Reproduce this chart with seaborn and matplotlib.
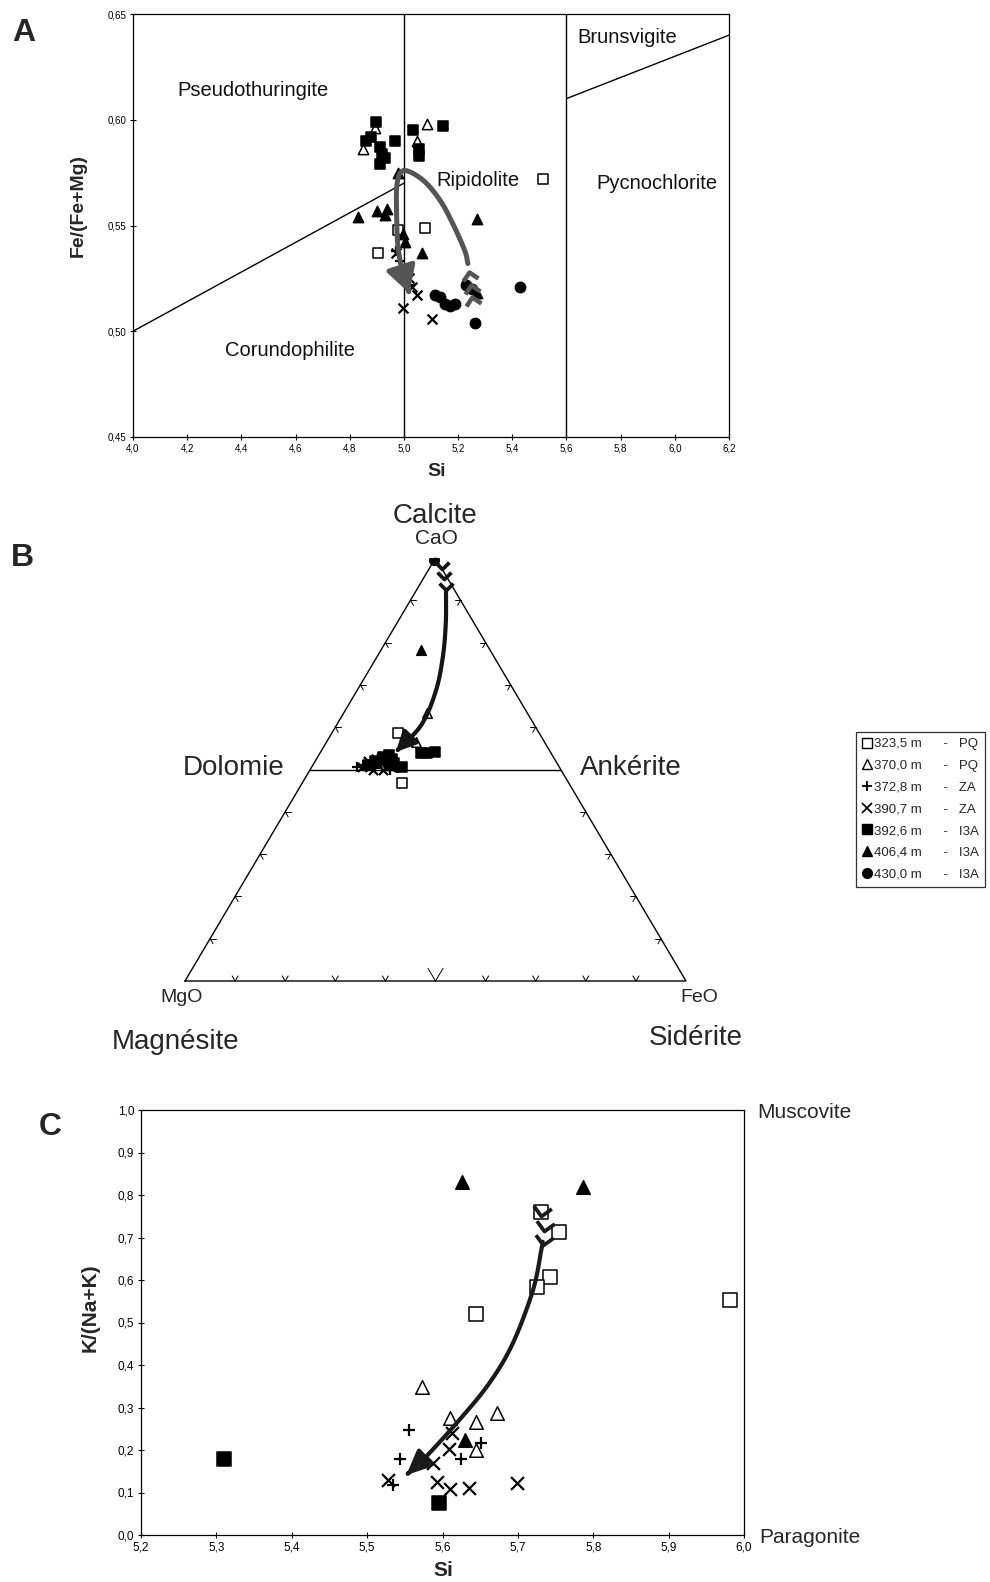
import numpy as np
import pandas as pd
import matplotlib
matplotlib.use("Agg")
import matplotlib.pyplot as plt
import seaborn as sns
from matplotlib.path import Path
from matplotlib.markers import MarkerStyle
from matplotlib.transforms import Affine2D
from matplotlib.patches import FancyArrowPatch, ArrowStyle
from matplotlib.lines import Line2D
from matplotlib.ticker import FuncFormatter, MultipleLocator

sns.set_theme(style="ticks")
plt.rcParams["font.family"] = ["Liberation Sans", "DejaVu Sans"]
plt.rcParams["axes.edgecolor"] = "black"
plt.rcParams["axes.linewidth"] = 0.9

# ---------------------------------------------------------------- samples
sample_labels = ["323,5 m      -   PQ", "370,0 m      -   PQ", "372,8 m      -   ZA",
                 "390,7 m      -   ZA", "392,6 m      -   I3A", "406,4 m      -   I3A",
                 "430,0 m      -   I3A"]
sample_markers = ["s", "^", "+", "x", "s", "^", "o"]
sample_faces = ["white", "white", "black", "black", "black", "black", "black"]

# ---------------------------------------------------------------- A: chlorites, Si vs Fe/(Fe+Mg)
a_si = [
    [4.905, 4.978, 5.077, 5.513],
    [4.893, 4.850, 5.085, 5.048],
    [4.985, 5.000, 5.020, 5.010, 4.970],
    [4.997, 5.105, 5.050, 5.030, 4.970, 5.020, 4.985],
    [4.897, 4.860, 4.880, 4.910, 4.920, 4.930, 4.910, 4.967, 5.033, 5.144, 5.055, 5.055],
    [4.830, 4.900, 4.937, 4.930, 4.980, 5.004, 5.066, 5.270, 4.995, 5.270],
    [5.114, 5.133, 5.150, 5.170, 5.190, 5.262, 5.430, 5.230, 5.250],
]
a_fe = [
    [0.537, 0.548, 0.549, 0.572],
    [0.596, 0.586, 0.598, 0.590],
    [0.533, 0.527, 0.522, 0.530, 0.538],
    [0.511, 0.506, 0.517, 0.521, 0.537, 0.525, 0.545],
    [0.599, 0.590, 0.592, 0.587, 0.584, 0.582, 0.579, 0.590, 0.595, 0.597, 0.586, 0.583],
    [0.554, 0.557, 0.558, 0.555, 0.575, 0.542, 0.537, 0.553, 0.546, 0.518],
    [0.517, 0.516, 0.513, 0.512, 0.513, 0.504, 0.521, 0.522, 0.520],
]
a_arrow_si = [5.236, 5.225, 5.180, 5.133, 5.070, 5.000, 4.975, 4.973, 4.978, 4.995, 5.020]
a_arrow_fe = [0.532, 0.538, 0.551, 0.562, 0.5715, 0.576, 0.570, 0.555, 0.540, 0.528, 0.518]
a_fletch_si = [5.240, 5.246, 5.252]
a_fletch_fe = [0.528, 0.522, 0.516]

# field boundaries (Hey classification)
a_bound1_si, a_bound1_fe = [4.0, 5.0], [0.50, 0.57]
a_bound2_si, a_bound2_fe = [5.6, 6.2], [0.61, 0.64]
a_vlines = [5.0, 5.6]
a_fields = ["Pseudothuringite", "Corundophilite", "Ripidolite", "Brunsvigite", "Pycnochlorite"]
a_field_si = [4.443, 4.579, 5.273, 5.823, 5.934]
a_field_fe = [0.614, 0.491, 0.5715, 0.639, 0.570]

# ---------------------------------------------------------------- B: carbonates, CaO-MgO-FeO
b_cao = [
    [0.586, 0.467],
    [0.634, 0.566],
    [0.505, 0.510, 0.520, 0.500],
    [0.505, 0.510, 0.500, 0.515, 0.520, 0.500],
    [0.540, 0.542, 0.538, 0.530, 0.520, 0.510, 0.525, 0.515, 0.505, 0.535],
    [0.782, 0.525, 0.530, 0.515],
    [0.995, 0.520, 0.510, 0.505],
]
b_feo = [
    [0.133, 0.199],
    [0.167, 0.179],
    [0.090, 0.100, 0.130, 0.160],
    [0.100, 0.115, 0.125, 0.135, 0.105, 0.145],
    [0.201, 0.228, 0.215, 0.130, 0.120, 0.110, 0.150, 0.160, 0.180, 0.140],
    [0.080, 0.110, 0.120, 0.125],
    [0.000, 0.140, 0.150, 0.170],
]
b_arrow_cao = [0.922, 0.845, 0.765, 0.685, 0.605, 0.5415]
b_arrow_feo = [0.060, 0.098, 0.132, 0.158, 0.169, 0.150]
b_fletch_cao = [0.975, 0.950, 0.925]
b_fletch_feo = [0.025, 0.042, 0.058]

# ---------------------------------------------------------------- C: micas, Si vs K/(Na+K)
c_si = [
    [5.645, 5.731, 5.755, 5.742, 5.726, 5.982],
    [5.573, 5.610, 5.645, 5.672, 5.645],
    [5.555, 5.544, 5.625, 5.651, 5.534],
    [5.528, 5.612, 5.608, 5.587, 5.593, 5.610, 5.635, 5.699],
    [5.310, 5.596],
    [5.626, 5.786, 5.630],
    [],
]
c_k = [
    [0.520, 0.761, 0.714, 0.608, 0.584, 0.553],
    [0.349, 0.275, 0.267, 0.286, 0.200],
    [0.247, 0.180, 0.180, 0.216, 0.118],
    [0.129, 0.239, 0.202, 0.169, 0.125, 0.108, 0.110, 0.122],
    [0.180, 0.075],
    [0.831, 0.820, 0.224],
    [],
]
c_arrow_si = [5.733, 5.731, 5.720, 5.693, 5.662, 5.622, 5.578, 5.552]
c_arrow_k = [0.690, 0.670, 0.576, 0.450, 0.357, 0.270, 0.184, 0.141]
c_fletch_si = [5.731, 5.735, 5.733]
c_fletch_k = [0.750, 0.715, 0.682]


# ---------------------------------------------------------------- helpers
def catmull_rom(pts, n=14):
    pts = np.asarray(pts, float)
    P = np.vstack([2 * pts[0] - pts[1], pts, 2 * pts[-1] - pts[-2]])
    out = []
    t = np.linspace(0, 1, n, endpoint=False)[:, None]
    for i in range(1, len(P) - 2):
        p0, p1, p2, p3 = P[i - 1], P[i], P[i + 1], P[i + 2]
        seg = 0.5 * (2 * p1 + (-p0 + p2) * t + (2 * p0 - 5 * p1 + 4 * p2 - p3) * t ** 2
                     + (-p0 + 3 * p1 - 3 * p2 + p3) * t ** 3)
        out.append(seg)
    out.append(pts[-1:])
    return np.vstack(out)


def trend_arrow(ax, xs, ys, fx, fy, color, lw, head_len, head_w, fletch_size):
    pts = catmull_rom(np.column_stack([xs, ys]))
    arrow = FancyArrowPatch(path=Path(pts), transform=ax.transData,
                            arrowstyle=ArrowStyle("-|>", head_length=head_len, head_width=head_w),
                            mutation_scale=20, lw=lw, color=color, zorder=5,
                            capstyle="round", joinstyle="round")
    ax.add_patch(arrow)
    # fletching: chevrons pointing along the direction of travel
    d0 = ax.transData.transform(pts[0])
    d1 = ax.transData.transform(pts[3])
    ang = np.degrees(np.arctan2(d1[1] - d0[1], d1[0] - d0[0]))
    chevron = Path([(-1.0, 1.0), (0.0, 0.0), (-1.0, -1.0)],
                   [Path.MOVETO, Path.LINETO, Path.LINETO])
    ms = MarkerStyle(chevron, fillstyle="none", transform=Affine2D().rotate_deg(ang))
    ax.plot(fx, fy, linestyle="none", marker=ms, markersize=fletch_size,
            markeredgewidth=lw * 0.9, color=color, zorder=5)


def scatter_samples(ax, xs_list, ys_list, size):
    for xs, ys, mk, fc in zip(xs_list, ys_list, sample_markers, sample_faces):
        if len(xs) == 0:
            continue
        df = pd.DataFrame({"x": xs, "y": ys})
        kw = dict(data=df, x="x", y="y", marker=mk, color="black", ax=ax,
                  legend=False, zorder=4)
        if mk in ("+", "x"):
            sns.scatterplot(s=size * 0.9, linewidth=1.6, **kw)
        else:
            sns.scatterplot(s=size, facecolor=fc, edgecolor="black", linewidth=1.1, **kw)


comma = lambda nd: FuncFormatter(lambda v, p: f"{v:.{nd}f}".replace(".", ","))

W, H = 990, 1582
fig = plt.figure(figsize=(W / 100, H / 100), dpi=100)
fig.patch.set_facecolor("white")


def px_axes(left, top, right, bottom):
    return fig.add_axes([left / W, 1 - bottom / H, (right - left) / W, (bottom - top) / H])


# ================================================================= panel A
axA = px_axes(133, 14, 729, 437)
axA.set_xlim(4.0, 6.2)
axA.set_ylim(0.45, 0.65)
for v in a_vlines:
    axA.axvline(v, color="black", lw=1.0, zorder=2)
axA.plot(a_bound1_si, a_bound1_fe, color="black", lw=1.0, zorder=2)
axA.plot(a_bound2_si, a_bound2_fe, color="black", lw=1.0, zorder=2)
for name, x, y in zip(a_fields, a_field_si, a_field_fe):
    axA.text(x, y, name, ha="center", va="center", fontsize=14.5, color="#111111")
scatter_samples(axA, a_si, a_fe, 55)
trend_arrow(axA, a_arrow_si, a_arrow_fe, a_fletch_si, a_fletch_fe,
            color="#555555", lw=3.6, head_len=0.8, head_w=0.45, fletch_size=11)
axA.xaxis.set_major_locator(MultipleLocator(0.2))
axA.yaxis.set_major_locator(MultipleLocator(0.05))
axA.xaxis.set_major_formatter(comma(1))
axA.yaxis.set_major_formatter(comma(2))
axA.tick_params(direction="inout", length=4, width=0.8, labelsize=7, pad=3, colors="black")
axA.set_xlabel("Si", fontsize=14, fontweight="bold")
axA.set_ylabel("Fe/(Fe+Mg)", fontsize=14, fontweight="bold")
axA.xaxis.set_label_coords(0.51, -35 / 423)
axA.xaxis.label.set_va("center")
axA.yaxis.set_label_coords(-55 / 596, 0.548)
axA.yaxis.label.set_va("center")

# ================================================================= panel B
axB = px_axes(185, 558, 686, 981)
axB.set_xlim(0, 1)
axB.set_ylim(0, 1)
axB.axis("off")


def tern(cao, feo):
    cao = np.asarray(cao, float)
    feo = np.asarray(feo, float)
    return feo + cao / 2.0, cao


tx, ty = tern([0, 0, 1, 0], [0, 1, 0, 0])
axB.plot(tx, ty, color="black", lw=1.0, clip_on=False, zorder=2)
hx, hy = tern([0.5, 0.5], [0.0, 0.5])
axB.plot(hx, hy, color="black", lw=1.0, clip_on=False, zorder=2)

# tick marks every 10 % drawn along the two grid directions
for i in range(1, 10):
    t = i / 10
    d = 0.03 if i == 5 else 0.012
    # bottom edge (CaO = 0)
    for cc, ff in [((0, d), (t, t)), ((0, d), (t, t - d))]:
        x_, y_ = tern(cc, ff)
        axB.plot(x_, y_, color="black", lw=0.7, clip_on=False)
    if i == 5:
        continue
    d = 0.012
    # left edge (FeO = 0)
    for cc, ff in [((t, t), (0, d)), ((t, t - d), (0, d))]:
        x_, y_ = tern(cc, ff)
        axB.plot(x_, y_, color="black", lw=0.7, clip_on=False)
    # right edge (MgO = 0)
    for cc, ff in [((t, t), (1 - t, 1 - t - d)), ((t, t - d), (1 - t, 1 - t))]:
        x_, y_ = tern(cc, ff)
        axB.plot(x_, y_, color="black", lw=0.7, clip_on=False)

bx = [tern(c, f)[0] for c, f in zip(b_cao, b_feo)]
by = [tern(c, f)[1] for c, f in zip(b_cao, b_feo)]
scatter_samples(axB, bx, by, 48)
bax, bay = tern(b_arrow_cao, b_arrow_feo)
bfx, bfy = tern(b_fletch_cao, b_fletch_feo)
trend_arrow(axB, bax, bay, bfx, bfy, color="#151515", lw=3.0,
            head_len=0.6, head_w=0.3, fletch_size=10)

axB.text(0.499, 1.100, "Calcite", ha="center", va="center", fontsize=20)
axB.text(0.501, 1.047, "CaO", ha="center", va="center", fontsize=15)
axB.text(0.098, 0.504, "Dolomie", ha="center", va="center", fontsize=20)
axB.text(0.890, 0.504, "Ankérite", ha="center", va="center", fontsize=20)
axB.text(-0.006, -0.040, "MgO", ha="center", va="center", fontsize=14)
axB.text(1.026, -0.040, "FeO", ha="center", va="center", fontsize=14)
axB.text(-0.018, -0.145, "Magnésite", ha="center", va="center", fontsize=20)
axB.text(1.020, -0.135, "Sidérite", ha="center", va="center", fontsize=20)

# legend
handles = [Line2D([], [], linestyle="none", marker=m, markersize=7,
                  markerfacecolor=fc, markeredgecolor="black", color="black",
                  markeredgewidth=1.3 if m in "+x" else 1.0, label=lab)
           for m, fc, lab in zip(sample_markers, sample_faces, sample_labels)]
leg = fig.legend(handles=handles, loc="upper left", bbox_to_anchor=(856 / W, 1 - 732 / H),
                 fontsize=9.5, frameon=True, fancybox=False, edgecolor="black",
                 handlelength=0.7, handletextpad=0.2, borderpad=0.45,
                 labelspacing=0.72, borderaxespad=0)
leg.get_frame().set_linewidth(0.9)

# ================================================================= panel C
axC = px_axes(141, 1110, 744, 1535)
axC.set_xlim(5.2, 6.0)
axC.set_ylim(0.0, 1.0)
scatter_samples(axC, c_si, c_k, 95)
trend_arrow(axC, c_arrow_si, c_arrow_k, c_fletch_si, c_fletch_k,
            color="#1a1a1a", lw=3.0, head_len=0.75, head_w=0.34, fletch_size=13)
axC.xaxis.set_major_locator(MultipleLocator(0.1))
axC.yaxis.set_major_locator(MultipleLocator(0.1))
axC.xaxis.set_major_formatter(comma(1))
axC.yaxis.set_major_formatter(comma(1))
axC.tick_params(direction="inout", length=4, width=0.8, labelsize=8.5, pad=3, colors="black")
axC.set_xlabel("Si", fontsize=15, fontweight="bold")
axC.set_ylabel("K/(Na+K)", fontsize=15, fontweight="bold")
axC.xaxis.set_label_coords(0.501, -35 / 425)
axC.xaxis.label.set_va("center")
axC.yaxis.set_label_coords(-51 / 603, 0.536)
axC.yaxis.label.set_va("center")
axC.text(1.022, 0.993, "Muscovite", transform=axC.transAxes, ha="left", va="center", fontsize=15)
axC.text(1.025, -0.005, "Paragonite", transform=axC.transAxes, ha="left", va="center", fontsize=15)

# panel letters
for letter, x, y in [("A", 24, 33), ("B", 22, 558), ("C", 50, 1127)]:
    fig.text(x / W, 1 - y / H, letter, ha="center", va="center", fontsize=23, fontweight="bold")

fig.savefig("out.png", dpi=100, facecolor="white")
